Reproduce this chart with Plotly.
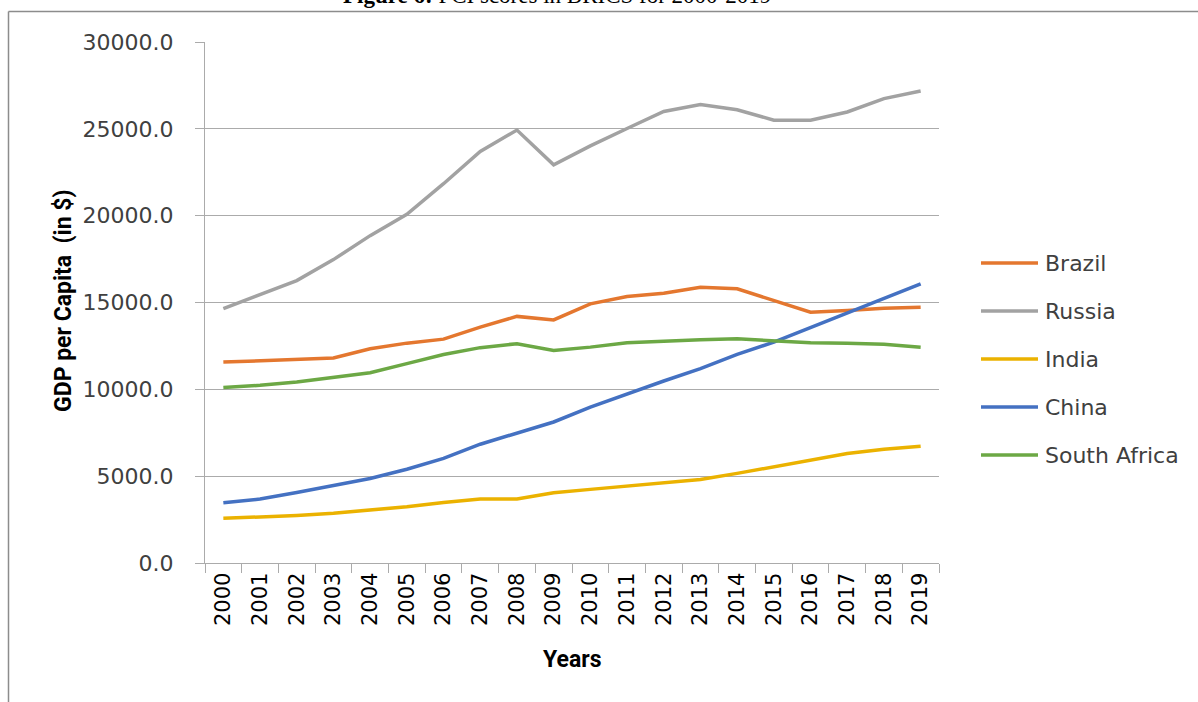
import plotly.graph_objects as go

# GDP per capita (in $) for the BRICS countries, 2000-2019
years = [str(y) for y in range(2000, 2020)]
brazil = [11570, 11650, 11740, 11800, 12340, 12660, 12890, 13580, 14200, 14000,
          14920, 15340, 15530, 15880, 15790, 15110, 14440, 14540, 14670, 14730]
russia = [14650, 15450, 16260, 17470, 18850, 20080, 21840, 23700, 24930, 22930,
          24020, 25020, 26000, 26400, 26100, 25500, 25500, 25970, 26740, 27180]
india = [2570, 2640, 2740, 2870, 3050, 3240, 3490, 3680, 3680, 4040,
         4240, 4430, 4580, 4810, 5160, 5530, 5920, 6300, 6550, 6720]
china = [3470, 3680, 4060, 4480, 4870, 5400, 6020, 6840, 7490, 8120,
         8980, 9750, 10480, 11190, 12010, 12720, 13550, 14390, 15250, 16070]
south_africa = [10100, 10230, 10420, 10670, 10960, 11480, 12010, 12400, 12630, 12240,
                12430, 12680, 12780, 12860, 12910, 12820, 12680, 12660, 12590, 12430]

series_names = ["Brazil", "Russia", "India", "China", "South Africa"]
series_values = [brazil, russia, india, china, south_africa]
series_colors = ["#E4772F", "#A2A2A2", "#EBB200", "#4471C2", "#6CA845"]

W, H = 1198, 702
L, R, T, B = 205, 259, 42, 139
PW, PH = W - L - R, H - T - B


def px(x):
    return (x - L) / PW


def py(y):
    return (H - B - y) / PH


SANS = "DejaVu Sans"
TEXT = "#404040"
GRID = "#ABABAB"

fig = go.Figure()
for name, vals, col in zip(series_names, series_values, series_colors):
    fig.add_trace(go.Scatter(x=years, y=vals, name=name, mode="lines",
                             line=dict(color=col, width=3.5), showlegend=False))

shapes = [
    # frame around the figure
    dict(type="line", xref="paper", yref="paper", x0=px(8.5), x1=px(1210),
         y0=py(11.5), y1=py(11.5), line=dict(color="#8C8C8C", width=1.5)),
    dict(type="line", xref="paper", yref="paper", x0=px(8.5), x1=px(8.5),
         y0=py(11.5), y1=py(715), line=dict(color="#8C8C8C", width=1.5)),
]
annotations = [
    dict(text="<b>Figure 6:</b> PCI scores in BRICS for 2000-2019", xref="paper", yref="paper",
         x=px(557), y=py(-4), xanchor="center", yanchor="middle", showarrow=False,
         font=dict(family="Liberation Serif", size=23, color="#000000")),
    dict(text="<b>GDP per Capita  (in $)</b>", xref="paper", yref="paper",
         x=px(63), y=py(301), xanchor="center", yanchor="middle", textangle=-90,
         showarrow=False, font=dict(family="Roboto", size=23, color="#000000")),
    dict(text="<b>Years</b>", xref="paper", yref="paper",
         x=px(572), y=py(659), xanchor="center", yanchor="middle",
         showarrow=False, font=dict(family="Roboto", size=23, color="#000000")),
]

# legend drawn to the right of the plot area
legend_y = [263, 311, 359, 407, 455]
for name, col, ly in zip(series_names, series_colors, legend_y):
    shapes.append(dict(type="line", xref="paper", yref="paper", x0=px(981), x1=px(1038),
                       y0=py(ly), y1=py(ly), line=dict(color=col, width=3.5)))
    annotations.append(dict(text=name, xref="paper", yref="paper", x=px(1043), y=py(ly),
                            xanchor="left", yanchor="middle", showarrow=False,
                            font=dict(family=SANS, size=22, color=TEXT)))

fig.update_layout(
    width=W, height=H,
    margin=dict(l=L, r=R, t=T, b=B, pad=0),
    paper_bgcolor="white", plot_bgcolor="white",
    shapes=shapes, annotations=annotations,
    showlegend=False,
)
fig.update_xaxes(
    type="category", range=[-0.5, len(years) - 0.5], tickangle=-90, tickson="boundaries",
    ticks="outside", ticklen=9, tickcolor=GRID, tickwidth=1.3,
    showline=True, linecolor=GRID, linewidth=1.3, showgrid=False,
    tickfont=dict(family=SANS, size=21, color="#000000"),
)
fig.update_yaxes(
    range=[0, 30000], dtick=5000, tickformat=".1f",
    ticks="outside", ticklen=9, tickcolor=GRID, tickwidth=1.3,
    showline=True, linecolor=GRID, linewidth=1.3,
    showgrid=True, gridcolor=GRID, gridwidth=1.3, zeroline=False,
    ticklabelstandoff=17,
    tickfont=dict(family=SANS, size=22, color=TEXT),
)

fig.write_html("out.html")
